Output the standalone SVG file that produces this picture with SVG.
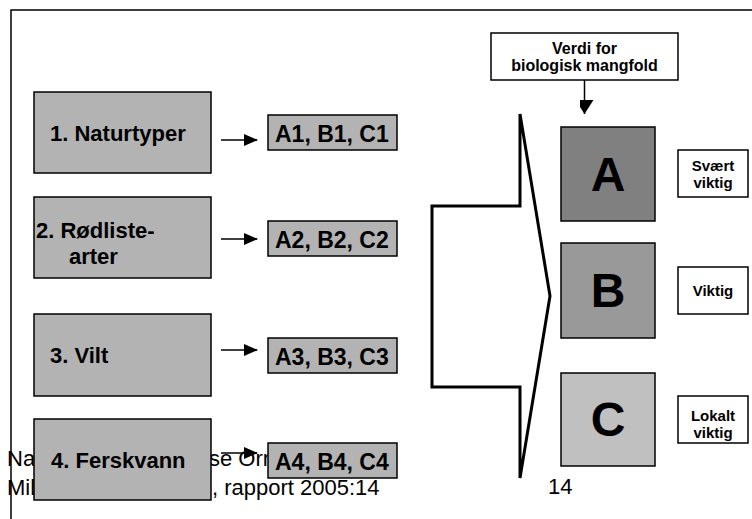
<svg xmlns="http://www.w3.org/2000/svg" width="752" height="519" viewBox="0 0 752 519">
<defs>
<style>
.bx{fill:#b3b3b3;stroke:#000;stroke-width:1.5}
.lbl{font-family:"Liberation Sans",Arial,sans-serif;font-weight:bold;font-size:22px;fill:#000}
.code{font-family:"Liberation Sans",Arial,sans-serif;font-weight:bold;font-size:23px;fill:#000}
.foot{font-family:"Liberation Sans",Arial,sans-serif;font-size:22px;fill:#000}
.wb{fill:#fff;stroke:#000;stroke-width:1.5}
.sm{font-family:"Liberation Sans",Arial,sans-serif;font-weight:bold;font-size:15px;fill:#000;text-anchor:middle}
.big{font-family:"Liberation Sans",Arial,sans-serif;font-weight:bold;font-size:48px;fill:#000;text-anchor:middle}
.con{stroke:#000;stroke-width:1.5;fill:none}
</style>
<marker id="ah" markerWidth="14" markerHeight="12" refX="13" refY="6" orient="auto" markerUnits="userSpaceOnUse"><path d="M0,0 L14,6 L0,12 Z" fill="#000"/></marker>
<marker id="ah2" markerWidth="18" markerHeight="14" refX="14" refY="9" orient="auto" markerUnits="userSpaceOnUse"><path d="M0,0 L14,9 L0,18 Z" fill="#000"/></marker>
</defs>
<rect width="752" height="519" fill="#fff"/>
<path d="M11,519 L11,10 L752,10" fill="none" stroke="#000" stroke-width="1.5"/>
<g id="footer">
<text class="foot" x="7" y="466">Na</text>
<text class="foot" x="209" y="466">se Orn</text>
<text class="foot" x="7" y="495">Mil</text>
<text class="foot" x="212" y="495">, rapport 2005:14</text>
<text class="foot" x="548" y="494">14</text>
</g>
<g id="connectors">
<line class="con" x1="221" y1="140" x2="257" y2="140" marker-end="url(#ah)"/>
<line class="con" x1="221" y1="239" x2="257" y2="239" marker-end="url(#ah)"/>
<line class="con" x1="221" y1="350" x2="257" y2="350" marker-end="url(#ah)"/>
<line class="con" x1="221" y1="453" x2="257" y2="453" marker-end="url(#ah)"/>
<line class="con" x1="584.5" y1="80" x2="584.5" y2="114" marker-end="url(#ah2)"/>
</g>
<g id="n1"><rect class="bx" x="34" y="92" width="177" height="81"/><text class="lbl" x="50" y="141">1. Naturtyper</text></g>
<g id="n2"><rect class="bx" x="34" y="197" width="177" height="81"/><text class="lbl" x="36" y="238">2. Rødliste-</text><text class="lbl" x="69" y="264">arter</text></g>
<g id="n3"><rect class="bx" x="34" y="314" width="177" height="82"/><text class="lbl" x="50" y="363">3. Vilt</text></g>
<g id="n4"><rect class="bx" x="34" y="419" width="177" height="81"/><text class="lbl" x="51" y="468">4. Ferskvann</text></g>
<g id="c1"><rect class="bx" x="268" y="115" width="129" height="35"/><text class="code" x="275" y="142">A1, B1, C1</text></g>
<g id="c2"><rect class="bx" x="268" y="221" width="129" height="35"/><text class="code" x="275" y="248">A2, B2, C2</text></g>
<g id="c3"><rect class="bx" x="268" y="338" width="129" height="35"/><text class="code" x="275" y="365">A3, B3, C3</text></g>
<g id="c4"><rect class="bx" x="268" y="443" width="129" height="35"/><text class="code" x="275" y="470">A4, B4, C4</text></g>
<g id="bigarrow"><path d="M520,114 L550,296 L520,478 L520,387 L432,387 L432,206 L520,206 Z" fill="none" stroke="#000" stroke-width="3" stroke-linejoin="miter"/></g>
<g id="verdi"><rect class="wb" x="491" y="33" width="187" height="47"/><text class="sm" x="584.5" y="54" style="font-size:16px">Verdi for</text><text class="sm" x="584.5" y="71" style="font-size:16px">biologisk mangfold</text></g>
<g id="A"><rect x="561" y="127" width="94" height="94" fill="#808080" stroke="#000" stroke-width="1.5"/><text class="big" x="608" y="191">A</text></g>
<g id="B"><rect x="561" y="243" width="94" height="95" fill="#999999" stroke="#000" stroke-width="1.5"/><text class="big" x="608" y="307">B</text></g>
<g id="C"><rect x="561" y="373" width="94" height="93" fill="#c0c0c0" stroke="#000" stroke-width="1.5"/><text class="big" x="608" y="436">C</text></g>
<g id="l1"><rect class="wb" x="678" y="150" width="70" height="47"/><text class="sm" x="713" y="171">Svært</text><text class="sm" x="713" y="188">viktig</text></g>
<g id="l2"><rect class="wb" x="678" y="267" width="70" height="47"/><text class="sm" x="713" y="296">Viktig</text></g>
<g id="l3"><rect class="wb" x="678" y="396" width="70" height="47"/><text class="sm" x="713" y="421">Lokalt</text><text class="sm" x="713" y="438">viktig</text></g>
</svg>
